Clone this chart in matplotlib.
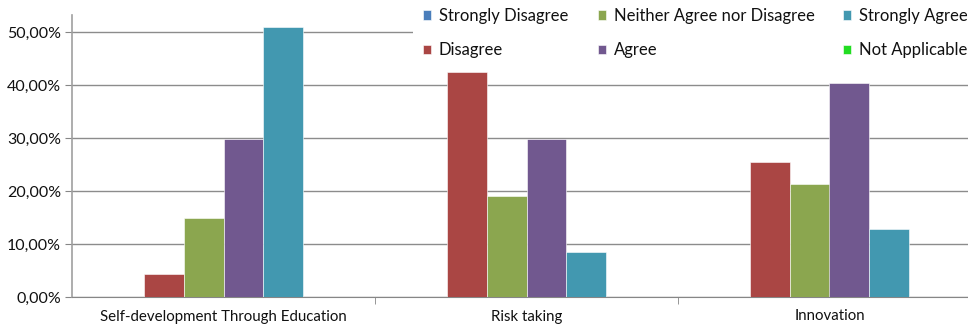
import matplotlib
matplotlib.use("Agg")
import matplotlib.pyplot as plt
import numpy as np
from matplotlib.patches import Rectangle
from matplotlib.ticker import FuncFormatter, FixedLocator

categories = ["Self-development Through Education", "Risk taking", "Innovation"]
series_names = ["Strongly Disagree", "Disagree", "Neither Agree nor Disagree",
                "Agree", "Strongly Agree", "Not Applicable"]
strongly_disagree = [0.0, 0.0, 0.0]
disagree = [4.26, 42.55, 25.53]
neither = [14.89, 19.15, 21.28]
agree = [29.79, 29.79, 40.43]
strongly_agree = [51.06, 8.51, 12.77]
not_applicable = [0.0, 0.0, 0.0]
y_ticks = [0, 10, 20, 30, 40, 50]

series = [strongly_disagree, disagree, neither, agree, strongly_agree, not_applicable]
colors = ["#4A7EBB", "#AA4644", "#8BA64F", "#71588F", "#4298B0", "#22DD22"]

plt.rcParams["font.family"] = ["Lato", "DejaVu Sans"]

W, H = 968, 329
fig = plt.figure(figsize=(W / 100, H / 100), dpi=100)
left, right, bottom, top = 72, 981, 297, 15
ax = fig.add_axes([left / W, (H - bottom) / H, (right - left) / W, (bottom - top) / H])

x = np.arange(len(categories))
bw = 0.132
n = len(series)
handles = []
for i, (vals, c, name) in enumerate(zip(series, colors, series_names)):
    offs = (i - (n - 1) / 2) * bw
    b = ax.bar(x + offs, vals, width=bw, color=c, label=name, zorder=3,
               edgecolor="white", linewidth=0.4)
    handles.append(b)

ax.set_xlim(-0.5, len(categories) - 0.5)
ax.set_ylim(0, 53.3)
ax.set_yticks(y_ticks)
ax.yaxis.set_major_formatter(FuncFormatter(lambda v, p: f"{v:.2f}%".replace(".", ",")))
ax.grid(axis="y", color="#8C8C8C", linewidth=1.0, zorder=0)
ax.set_axisbelow(True)

ax.set_xticks(x)
ax.set_xticklabels(categories)
ax.xaxis.set_minor_locator(FixedLocator([0.5, 1.5, 2.5]))
ax.tick_params(axis="x", which="major", length=0, pad=9, labelsize=10.8, colors="#111111")
ax.tick_params(axis="x", which="minor", length=5, color="#868686", direction="out")
ax.tick_params(axis="y", length=5, color="#868686", labelsize=11.5, pad=3, labelcolor="#111111")

for s in ["top", "right"]:
    ax.spines[s].set_visible(False)
ax.spines["left"].set_color("#A0A0A0")
ax.spines["left"].set_linewidth(1.2)
ax.spines["bottom"].set_color("#868686")

# white backdrop behind the legend block
fig.patches.append(Rectangle((413 / W, 1 - 68 / H), (W - 413) / W, 68 / H,
                             transform=fig.transFigure, facecolor="white",
                             edgecolor="none", zorder=1))

# legend laid out as three columns of two entries
col_x = [423, 598, 843]
for k in range(3):
    hs = handles[2 * k:2 * k + 2]
    lg = fig.legend(hs, [h.get_label() for h in hs], loc="upper left",
                    bbox_to_anchor=(col_x[k] / W, 1 - 8 / H), frameon=False,
                    fontsize=12, handlelength=0.5, handleheight=0.5,
                    handletextpad=0.45, labelspacing=1.1,
                    borderpad=0, borderaxespad=0)
    lg.set_zorder(5)
    for t in lg.get_texts():
        t.set_color("#111111")

fig.savefig("out.png", dpi=100)
